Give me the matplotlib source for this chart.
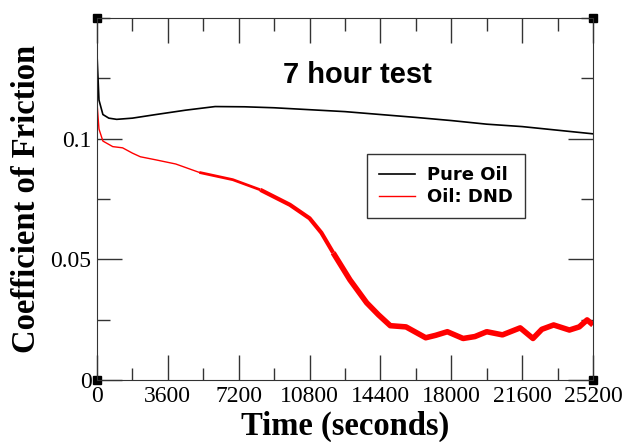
import matplotlib
matplotlib.use('Agg')
import matplotlib.pyplot as plt
from matplotlib.ticker import MultipleLocator

# time in seconds, coefficient of friction
t_pure = [0, 100, 300, 600, 1000, 1800, 3000, 4500, 6000, 7500, 9000, 10800,
          12600, 14400, 16200, 18000, 19800, 21600, 23400, 25200]
cof_pure = [0.135, 0.116, 0.110, 0.1085, 0.108, 0.1085, 0.110, 0.1118, 0.1133,
            0.1132, 0.1128, 0.112, 0.1112, 0.110, 0.1088, 0.1075, 0.106, 0.105,
            0.1035, 0.102]

t_dnd = [0, 100, 300, 800, 1300, 1800, 2200, 3000, 4000, 5200, 6900, 8300,
         9800, 10800, 11400, 12000, 12850, 13700, 14300, 14900, 15700, 16700,
         17200, 17800, 18600, 19200, 19800, 20600, 21500, 22150, 22600, 23200,
         24000, 24500, 24900, 25200]
cof_dnd = [0.115, 0.104, 0.099, 0.0967, 0.0962, 0.094, 0.0925, 0.0912, 0.0895,
           0.086, 0.083, 0.0788, 0.0726, 0.067, 0.061, 0.0527, 0.0415, 0.032,
           0.027, 0.0225, 0.022, 0.0175, 0.0185, 0.020, 0.0172, 0.018, 0.020,
           0.0187, 0.0216, 0.0172, 0.021, 0.0228, 0.0207, 0.022, 0.0249, 0.0228]

plt.rcParams['font.family'] = ['Liberation Serif', 'DejaVu Serif']

fig = plt.figure(figsize=(6.27, 4.42), dpi=100)
ax = fig.add_axes([0.1547, 0.1403, 0.7911, 0.819])

ax.plot(t_pure, cof_pure, color='black', lw=1.2, label='Pure Oil')
# red trace gets noisy (thicker) as the test goes on
ax.plot(t_dnd[:10], cof_dnd[:10], color='red', lw=1.0, label='Oil: DND')
ax.plot(t_dnd[9:12], cof_dnd[9:12], color='red', lw=2.0, solid_capstyle='butt')
ax.plot(t_dnd[11:16], cof_dnd[11:16], color='red', lw=3.0, solid_capstyle='butt')
ax.plot(t_dnd[15:], cof_dnd[15:], color='red', lw=4.0, solid_capstyle='butt')

ax.set_xlim(0, 25200)
ax.set_ylim(0, 0.15)
ax.xaxis.set_major_locator(MultipleLocator(3600))
ax.xaxis.set_minor_locator(MultipleLocator(1800))
ax.yaxis.set_minor_locator(MultipleLocator(0.025))
ax.set_yticks([0, 0.05, 0.1])
ax.set_yticklabels(['0', '0.05', '0.1'])
ax.tick_params(which='both', direction='in', top=True, right=True,
               labelsize=17, color='#333333', pad=4)
ax.tick_params(which='major', length=18, width=1)
ax.tick_params(which='minor', length=9, width=1)
for s in ax.spines.values():
    s.set_color('#333333')

ax.set_xlabel('Time (seconds)', fontsize=23.5, fontweight='bold', labelpad=3)
ax.set_ylabel('Coefficient of Friction', fontsize=23.5, fontweight='bold', labelpad=6)

ax.text(0.375, 0.82, '7 hour test', transform=ax.transAxes, fontsize=21,
        fontweight='bold', family=['Liberation Sans', 'DejaVu Sans'])

leg = ax.legend(loc='upper left', bbox_to_anchor=(0.544, 0.624), borderaxespad=0,
                fancybox=False, edgecolor='#333333', framealpha=1,
                prop={'family': 'DejaVu Sans', 'weight': 'bold', 'size': 13},
                handlelength=2.0, handletextpad=0.7, borderpad=0.65,
                labelspacing=0.25)
leg.get_frame().set_linewidth(1)

# selection handles at the corners
for cx, cy in [(0, 0), (1, 0), (0, 1), (1, 1)]:
    ax.plot(cx, cy, marker='s', ms=6, color='black', transform=ax.transAxes,
            clip_on=False)

fig.savefig('out.png', dpi=100)
